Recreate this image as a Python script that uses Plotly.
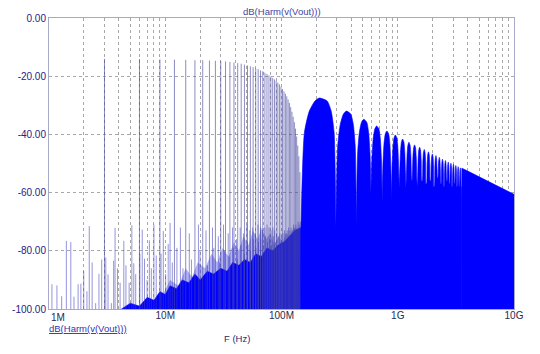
import plotly.graph_objects as go

# ---------------- data ----------------
# main harmonic lines (MHz, dB)
harm_mhz = [3, 6, 9, 12, 15, 18, 21, 24, 27, 30, 33, 36, 39, 42, 45, 48, 51, 54, 57, 60,
            63, 66, 69, 72, 75, 78, 81, 84, 87, 90, 93, 96, 99, 102, 105, 108, 111, 114, 117, 120,
            123, 126, 129, 132, 135, 138, 141, 144]
harm_db = [-14.0, -14.1, -14.2, -14.3, -14.4, -14.5, -14.5, -14.6, -14.7, -14.8, -14.9, -15.1,
           -15.3, -15.5, -15.7, -16.0, -16.3, -16.6, -16.9, -17.3, -17.6, -18.0, -18.3, -18.8,
           -19.2, -19.7, -20.1, -20.6, -21.1, -21.6, -22.2, -22.8, -23.6, -24.4, -25.2, -26.0,
           -26.9, -28.0, -29.2, -30.6, -32.2, -33.9, -35.8, -38.0, -40.7, -43.8, -47.5, -53.0]

# low-level spurious lines (MHz, dB)
spur_mhz = [1.06, 1.17, 1.285, 1.41, 1.54, 1.64, 1.78, 1.88, 1.99, 2.12, 2.22, 2.35, 2.52, 2.69,
            2.84, 3.08, 3.22, 3.44, 3.60, 3.70, 3.88, 4.09, 4.40, 4.59, 4.89, 5.16, 5.36, 5.57,
            6.05, 6.34, 6.63, 6.98, 7.30, 7.59, 7.99, 8.36, 9.20, 9.62, 10.08, 10.6, 11.0, 11.5,
            12.6, 13.5, 14.2, 16.1, 16.8, 19.3, 19.9, 22.4, 23.1, 25.5, 26.2, 28.6, 29.3, 31.7,
            32.4, 34.8, 35.5, 37.9, 38.6, 41.0, 41.7, 44.1, 44.8, 47.2, 47.9, 50.3, 51.0, 53.4,
            54.1, 56.5, 57.2, 59.6, 60.3, 62.7, 63.4, 65.8, 66.5, 68.9, 69.6, 72.0, 72.7, 75.1,
            75.8, 78.2, 78.9, 81.3, 82.0, 84.4, 85.1, 87.5, 88.2, 90.6, 91.3, 93.7, 94.4, 96.8,
            97.5, 99.9, 100.6, 103, 106, 109, 112, 115, 118, 121, 124, 127, 130, 133, 136, 139,
            142, 145]
spur_db = [-91.5, -91.9, -95.6, -76.6, -77.0, -95.8, -91.5, -91.3, -87.0, -93.9, -71.5, -84.0,
           -98.0, -87.9, -83.0, -82.3, -88.1, -98.0, -83.4, -72.1, -86.0, -91.0, -76.6, -85.0,
           -91.0, -71.2, -84.3, -88.0, -81.0, -72.7, -82.7, -90.0, -76.4, -86.0, -71.0, -81.6,
           -81.0, -73.2, -88.0, -77.7, -70.4, -84.0,
           -79, -72, -86, -74, -83, -71, -80, -73, -85, -72, -79, -75, -84, -71,
           -80, -74, -82, -72, -79, -76, -83, -72, -78, -74, -81, -71, -77, -73,
           -80, -72, -76, -74, -79, -71, -77, -72, -76, -73, -78, -72, -75, -71,
           -77, -72, -76, -73, -78, -72, -75, -73, -77, -74, -78, -75, -79, -74,
           -77, -75, -78, -74, -73, -74, -73, -72, -73, -72, -73, -71, -72, -71, -72, -70,
           -71, -70]

# dense low-level line cluster (semi-filled area) (MHz, dB)
cluster_mhz = [9, 11, 13, 15, 17, 19, 22, 25, 28, 31, 35, 39, 43, 47, 52, 57, 62, 68, 74, 80,
               87, 94, 102, 110, 118, 127, 136, 147]
cluster_db = [-97, -90, -92, -86, -89, -84, -86, -81, -84, -79, -82, -77, -80, -75, -78, -73,
              -76, -72, -76, -74, -78, -75, -77, -74, -75, -72, -73, -72]

# noise floor (solid blue area) (MHz, dB)
floor_mhz = [4.2, 5, 6, 7, 8, 9, 10, 11, 12.5, 14, 16, 18, 20, 23, 26, 30, 34, 38, 43, 48,
             54, 60, 67, 75, 84, 94, 105, 117, 130, 147]
floor_db = [-100, -98, -99, -96, -97, -94, -95, -92, -93, -90, -91, -88, -90, -87, -88, -86,
            -87, -84, -85, -83, -84, -81, -82, -79, -80, -78, -77, -75, -73, -72]

# side lobes: nulls and peaks (MHz, dB)
lobe_null_mhz = [147, 294, 441, 588, 735, 882, 1029, 1176, 1323, 1470, 1617, 1764, 1911, 2058,
                 2205, 2352, 2499, 2646, 2793, 2940, 3087, 3234, 3381, 3528]
lobe_null_db = [-74, -72, -71.5, -60, -63, -63, -58.5, -58.5, -56, -58, -56, -57, -56, -58,
                -55, -57, -58, -56, -57, -58, -57, -58, -58, -58]
lobe_peak_mhz = [211, 362, 510, 658, 806, 953, 1101, 1248, 1395, 1542, 1690, 1837, 1984, 2131,
                 2278, 2425, 2572, 2719, 2866, 3013, 3160, 3307, 3454]
lobe_peak_db = [-27.5, -32.0, -34.8, -37.1, -38.8, -40.2, -41.6, -42.7, -43.6, -44.4, -45.2,
                -46.0, -46.7, -47.3, -47.9, -48.5, -49.0, -49.5, -49.9, -50.3, -50.7, -51.1, -51.5]

# high-frequency envelope (MHz, dB)
tail_mhz = [3528, 3560, 4000, 5000, 7000, 10000, 10600]
tail_db = [-58, -51.6, -52.6, -54.6, -57.6, -60.6, -61.0]

# axis ticks
decade_hz = [1e6, 1e7, 1e8, 1e9, 1e10]
decade_labels = ["1M", "10M", "100M", "1G", "10G"]
y_ticks = [-100, -80, -60, -40, -20, 0]
y_labels = ["-100.00", "-80.00", "-60.00", "-40.00", "-20.00", "0.00"]

# ---------------- drawing ----------------
BASE = -110
MHZ = 1e6
BLUE = "#0000ff"
STEM = "rgba(70,70,160,0.62)"
# dome profile of one lobe: (fraction of lobe width, dB below peak)
DOME = [(0.07, 12.0), (0.18, 4.5), (0.32, 1.0), (0.68, 1.0), (0.82, 4.5), (0.93, 12.0)]


def stems(fs, ds):
    xs, ys = [], []
    for f, d in zip(fs, ds):
        xs += [f * MHZ, f * MHZ, None]
        ys += [BASE, d, None]
    return xs, ys


def area(fs, ds):
    xs = [fs[0] * MHZ] + [f * MHZ for f in fs] + [fs[-1] * MHZ]
    ys = [BASE] + list(ds) + [BASE]
    return xs, ys


fig = go.Figure()

# dense cluster of low lines
cx, cy = area(cluster_mhz, cluster_db)
fig.add_trace(go.Scatter(x=cx, y=cy, mode="lines", fill="toself",
                         fillcolor="rgba(60,60,225,0.40)", line=dict(width=0),
                         hoverinfo="skip"))

# floor
fx, fy = area(floor_mhz, floor_db)
fig.add_trace(go.Scatter(x=fx, y=fy, mode="lines", fill="toself", fillcolor=BLUE,
                         line=dict(color=BLUE, width=0.5), hoverinfo="skip"))

# spurs
sx, sy = stems(spur_mhz, spur_db)
fig.add_trace(go.Scatter(x=sx, y=sy, mode="lines", line=dict(color="rgba(60,60,190,0.55)", width=1),
                         hoverinfo="skip"))

# main harmonics
hx, hy = stems(harm_mhz, harm_db)
fig.add_trace(go.Scatter(x=hx, y=hy, mode="lines", line=dict(color=STEM, width=1),
                         hoverinfo="skip"))

# side lobes
lx, ly = [], []
for i in range(len(lobe_peak_mhz)):
    fa, fb = lobe_null_mhz[i], lobe_null_mhz[i + 1]
    fp, pk = lobe_peak_mhz[i], lobe_peak_db[i]
    xs = [fa, fa]
    ys = [BASE, lobe_null_db[i]]
    left = [(fa + t * (fb - fa), pk - drop) for t, drop in DOME if fa + t * (fb - fa) < fp]
    right = [(fa + t * (fb - fa), pk - drop) for t, drop in DOME if fa + t * (fb - fa) > fp]
    for f, d in left:
        xs.append(f)
        ys.append(max(d, lobe_null_db[i]))
    xs.append(fp)
    ys.append(pk)
    for f, d in right:
        xs.append(f)
        ys.append(max(d, lobe_null_db[i + 1]))
    xs += [fb, fb]
    ys += [lobe_null_db[i + 1], BASE]
    lx += [f * MHZ for f in xs] + [None]
    ly += ys + [None]
fig.add_trace(go.Scatter(x=lx, y=ly, mode="lines", fill="toself", fillcolor=BLUE,
                         line=dict(color=BLUE, width=0.6, shape="spline", smoothing=0.6),
                         connectgaps=False, hoverinfo="skip"))

# tail envelope
tx, ty = area(tail_mhz, tail_db)
fig.add_trace(go.Scatter(x=tx, y=ty, mode="lines", fill="toself", fillcolor=BLUE,
                         line=dict(color=BLUE, width=0.6), hoverinfo="skip"))

# ticks / grid (first decade label drawn separately, left-aligned like the reference)
x_tickvals, x_ticktext = [], []
for j, (d, lab) in enumerate(zip(decade_hz, decade_labels)):
    x_tickvals.append(d)
    x_ticktext.append(lab if j > 0 else "")
    if d < decade_hz[-1]:
        for k in range(2, 10):
            x_tickvals.append(k * d)
            x_ticktext.append("")

FONT = "Liberation Sans, Arial, sans-serif"
fig.update_layout(
    width=540, height=354,
    margin=dict(l=38, r=26, t=14, b=45),
    paper_bgcolor="white", plot_bgcolor="white",
    showlegend=False,
    font=dict(family=FONT, size=10, color="#2a2a60"),
    xaxis=dict(type="log", range=[6, 10], tickmode="array", tickvals=x_tickvals,
               ticktext=x_ticktext, showgrid=True, gridcolor="#a8a8a8", griddash="dot",
               gridwidth=1, showline=True, mirror=True, linecolor="#a8a8c8", linewidth=1,
               ticks="", ticklabelstandoff=-3, zeroline=False,
               tickfont=dict(size=10, color="#2a2a50", family=FONT)),
    yaxis=dict(range=[-100, 0], tickmode="array", tickvals=y_ticks, ticktext=y_labels,
               showgrid=True, gridcolor="#a8a8a8", griddash="dot", gridwidth=1,
               showline=True, mirror=True, linecolor="#a8a8c8", linewidth=1, ticks="",
               zeroline=False, tickfont=dict(size=10, color="#23238a", family=FONT)),
)

fig.add_annotation(text=decade_labels[0], xref="paper", yref="paper", x=0, y=0,
                   xanchor="left", yanchor="top", showarrow=False, yshift=-1,
                   font=dict(size=10, color="#2a2a50", family=FONT))
fig.add_annotation(text="dB(Harm(v(Vout)))", xref="paper", yref="paper", x=0.5, y=1,
                   yanchor="bottom", showarrow=False, yshift=-1,
                   font=dict(size=9.5, color="#4444a4", family=FONT))
fig.add_annotation(text="<u>dB(Harm(v(Vout)))</u>", xref="paper", yref="paper", x=0, y=-20 / 295,
                   xanchor="left", yanchor="middle", showarrow=False, xshift=-2,
                   font=dict(size=9.5, color="#3333b0", family=FONT))
fig.add_annotation(text="F (Hz)", xref="paper", yref="paper", x=(230 - 38) / 476, y=-30 / 295,
                   xanchor="center", yanchor="middle", showarrow=False,
                   font=dict(size=9.5, color="#2a2a70", family=FONT))

fig.write_html("out.html")
